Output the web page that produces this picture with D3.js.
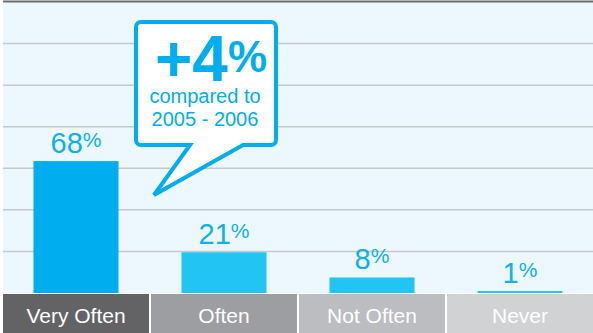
<!DOCTYPE html>
<html>
<head>
<meta charset="utf-8">
<script src="https://cdn.jsdelivr.net/npm/d3@7"></script>
<style>
  html, body { margin: 0; padding: 0; background: #ffffff; }
  svg { display: block; }
  text { font-family: "Liberation Sans", Arial, Helvetica, sans-serif; }
</style>
</head>
<body>
<svg id="chart" width="593" height="333"></svg>
<script>
// Frequency categories and their shares (%)
const categories = ["Very Often", "Often", "Not Often", "Never"];
const values = [68, 21, 8, 1];
const categoryFills = ["#636366", "#9d9ea1", "#bcbdc0", "#d1d2d4"];
const barFills = ["#00aeef", "#22c4f3", "#22c4f3", "#22c4f3"];

// Callout text
const calloutHeadline = ["+4", "%"];
const calloutLines = ["compared to", "2005 - 2006"];

const W = 593, H = 333;
const plotLeft = 3, plotTop = 2, baseline = 293;
const svg = d3.select("#chart");

const x = d3.scaleBand().domain(categories).range([plotLeft, 595]).paddingInner(0);
const y = d3.scaleLinear().domain([0, 150]).range([baseline, plotTop]);
const grid = d3.scaleLinear().domain([0, 7]).range([baseline, plotTop]);

// plot background
svg.append("rect")
  .attr("x", plotLeft).attr("y", plotTop)
  .attr("width", W - plotLeft).attr("height", baseline - plotTop)
  .attr("fill", "#edf8fe");

// top rule
svg.append("rect")
  .attr("x", plotLeft).attr("y", 0.5)
  .attr("width", W - plotLeft).attr("height", 2)
  .attr("fill", "#6a6b6d");

// horizontal gridlines
svg.append("g").selectAll("line")
  .data(d3.range(1, 7))
  .join("line")
  .attr("x1", plotLeft).attr("x2", W)
  .attr("y1", d => grid(d)).attr("y2", d => grid(d))
  .attr("stroke", "#c6c8ca").attr("stroke-width", 1.5);

// bars
const barW = 85;
svg.append("g").selectAll("rect")
  .data(values)
  .join("rect")
  .attr("x", (d, i) => x(categories[i]) + (x.step() - 2) / 2 - barW / 2)
  .attr("y", d => y(d))
  .attr("width", barW)
  .attr("height", d => baseline - y(d))
  .attr("fill", (d, i) => barFills[i]);

// value labels
const lbl = svg.append("g").selectAll("text")
  .data(values)
  .join("text")
  .attr("x", (d, i) => x(categories[i]) + (x.step() - 2) / 2)
  .attr("y", d => y(d) - 8)
  .attr("text-anchor", "middle")
  .attr("fill", "#0fb0ec");
lbl.append("tspan").attr("font-size", 29).text(d => d);
lbl.append("tspan").attr("font-size", 21).attr("dy", -6).text("%");

// category boxes along the bottom
const cat = svg.append("g").selectAll("g")
  .data(categories)
  .join("g");
cat.append("rect")
  .attr("x", d => x(d))
  .attr("y", 294)
  .attr("width", x.step() - 2)
  .attr("height", H - 294)
  .attr("fill", (d, i) => categoryFills[i]);
cat.append("text")
  .attr("x", d => x(d) + (x.step() - 2) / 2)
  .attr("y", 322.5)
  .attr("text-anchor", "middle")
  .attr("font-size", 21)
  .attr("fill", "#ffffff")
  .text(d => d);

// speech-bubble callout
const bx0 = 136, bx1 = 276, by0 = 22, by1 = 145, r = 5;
const tail = { left: 190, right: 243, tipX: 154, tipY: 195 };
const bubble = d3.path();
bubble.moveTo(bx0 + r, by0);
bubble.lineTo(bx1 - r, by0);
bubble.arcTo(bx1, by0, bx1, by0 + r, r);
bubble.lineTo(bx1, by1 - r);
bubble.arcTo(bx1, by1, bx1 - r, by1, r);
bubble.lineTo(tail.right, by1);
bubble.lineTo(tail.tipX, tail.tipY);
bubble.lineTo(tail.left, by1);
bubble.lineTo(bx0 + r, by1);
bubble.arcTo(bx0, by1, bx0, by1 - r, r);
bubble.lineTo(bx0, by0 + r);
bubble.arcTo(bx0, by0, bx0 + r, by0, r);
bubble.closePath();
svg.append("path")
  .attr("d", bubble.toString())
  .attr("fill", "#ffffff")
  .attr("stroke", "#00aeef")
  .attr("stroke-width", 4)
  .attr("stroke-linejoin", "miter");

const head = svg.append("text")
  .attr("x", 211).attr("y", 80.5)
  .attr("text-anchor", "middle")
  .attr("font-weight", "bold")
  .attr("fill", "#00aeef");
head.append("tspan").attr("font-size", 64).text(calloutHeadline[0]);
head.append("tspan").attr("font-size", 44).attr("dy", -9).text(calloutHeadline[1]);

svg.append("g").selectAll("text")
  .data(calloutLines)
  .join("text")
  .attr("x", 205)
  .attr("y", (d, i) => 103 + i * 23)
  .attr("text-anchor", "middle")
  .attr("font-size", 20)
  .attr("fill", "#00aeef")
  .text(d => d);
</script>
</body>
</html>
